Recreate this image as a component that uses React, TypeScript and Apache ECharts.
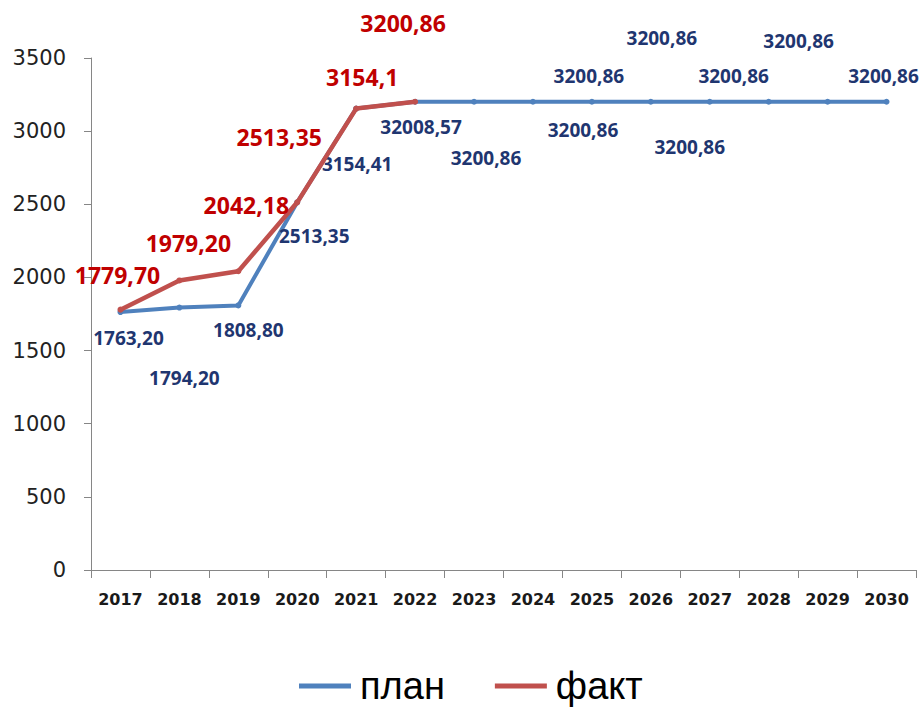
import React, { useEffect, useRef } from "react";
import * as echarts from "echarts";

const years = ["2017", "2018", "2019", "2020", "2021", "2022", "2023", "2024", "2025", "2026", "2027", "2028", "2029", "2030"];
const planValues = [1763.2, 1794.2, 1808.8, 2513.35, 3154.41, 3200.86, 3200.86, 3200.86, 3200.86, 3200.86, 3200.86, 3200.86, 3200.86, 3200.86];
const factValues = [1779.7, 1979.2, 2042.18, 2513.35, 3154.1, 3200.86];
const planLabels = ["1763,20", "1794,20", "1808,80", "2513,35", "3154,41", "32008,57", "3200,86", "3200,86", "3200,86", "3200,86", "3200,86", "3200,86", "3200,86", "3200,86"];
const factLabels = ["1779,70", "1979,20", "2042,18", "2513,35", "3154,1", "3200,86"];
const yTicks = { min: 0, max: 3500, interval: 500 };

// label placement offsets (layout only)
const planLabelOffsets = [[8, 26], [5, 70], [10, 25], [17, 34], [1, 55], [6, 25], [12, 56], [50, 28], [-3, -26], [11, -64], [-20, 45], [-35, -26], [-29, -61], [-3, -26]];
const factLabelOffsets = [[-3, -35], [9, -37], [8, -66], [-18, -65], [6, -32], [-12, -79]];

export default function App() {
  const ref = useRef<HTMLDivElement>(null);
  useEffect(() => {
    const chart = echarts.init(ref.current!, null, { renderer: "svg" });
    const planData = planValues.map((v, i) => ({
      value: v,
      label: { formatter: planLabels[i], offset: planLabelOffsets[i] },
    }));
    const factData = factValues.map((v, i) => ({
      value: v,
      label: { formatter: factLabels[i], offset: factLabelOffsets[i] },
    }));
    chart.setOption({
      animation: false,
      backgroundColor: "#ffffff",
      grid: { left: 91, right: 7, top: 58, bottom: 137, containLabel: false },
      legend: {
        data: ["план", "факт"],
        left: 299,
        top: 666,
        padding: 0,
        icon: "rect",
        itemWidth: 52,
        itemHeight: 5,
        itemGap: 50,
        textStyle: { fontFamily: "Liberation Sans", fontSize: 38, lineHeight: 40, color: "#000", padding: [0, 0, 0, 4] },
      },
      xAxis: {
        type: "category",
        data: years,
        boundaryGap: true,
        axisLine: { lineStyle: { color: "#868686", width: 1 } },
        axisTick: { show: true, length: 8, interval: 0, lineStyle: { color: "#868686" } },
        axisLabel: { interval: 0, margin: 21, fontFamily: "DejaVu Sans", fontWeight: "bold", fontSize: 16, color: "#1a1a1a" },
        splitLine: { show: false },
      },
      yAxis: {
        type: "value",
        min: yTicks.min,
        max: yTicks.max,
        interval: yTicks.interval,
        axisLine: { show: true, lineStyle: { color: "#868686", width: 1 } },
        axisTick: { show: true, length: 7, lineStyle: { color: "#868686" } },
        axisLabel: { margin: 25, fontFamily: "DejaVu Sans", fontSize: 21, color: "#222", formatter: (v: number) => String(v) },
        splitLine: { show: false },
      },
      series: [
        {
          name: "план",
          type: "line",
          data: planData,
          color: "#4F81BD",
          lineStyle: { width: 4, color: "#4F81BD" },
          itemStyle: { color: "#4F81BD" },
          symbol: "circle",
          symbolSize: 6,
          z: 2,
          label: {
            show: true,
            position: "inside",
            fontFamily: "Open Sans",
            fontWeight: "bold",
            fontSize: 19,
            color: "#1F3670",
          },
        },
        {
          name: "факт",
          type: "line",
          data: factData,
          color: "#C0504D",
          lineStyle: { width: 4.5, color: "#C0504D" },
          itemStyle: { color: "#C0504D" },
          symbol: "circle",
          symbolSize: 6,
          z: 3,
          label: {
            show: true,
            position: "inside",
            fontFamily: "Open Sans",
            fontWeight: "bold",
            fontSize: 23,
            color: "#C00000",
          },
        },
      ],
    });
    return () => chart.dispose();
  }, []);
  return <div ref={ref} style={{ width: 923, height: 707, position: "absolute", left: 0, top: 0 }} />;
}
